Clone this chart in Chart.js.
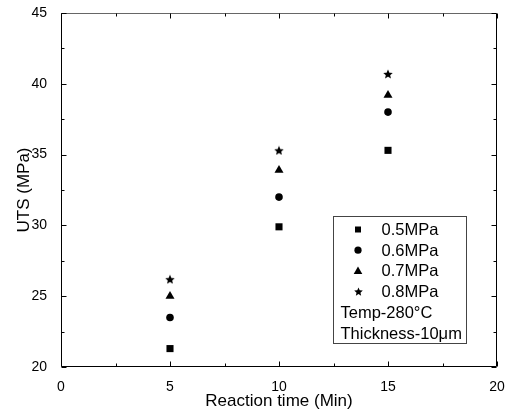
<!DOCTYPE html>
<html>
<head>
<meta charset="utf-8">
<script src="https://cdn.jsdelivr.net/npm/chart.js@4.4.1/dist/chart.umd.min.js"></script>
<style>
  html, body { margin: 0; padding: 0; background: #fff; }
  #wrap { width: 505px; height: 413px; }
</style>
</head>
<body>
<div id="wrap"><canvas id="graficoUts"></canvas></div>
<script>
// dados
const tempos = [5, 10, 15]
const uts05 = [21.3, 29.9, 35.3]
const uts06 = [23.5, 32.0, 38.0]
const uts07 = [25.0, 33.9, 39.2]
const uts08 = [26.2, 35.3, 40.7]
const legendas = ['0.5MPa', '0.6MPa', '0.7MPa', '0.8MPa']
const notas = ['Temp-280°C', 'Thickness-10μm']
const ticksX = [0, 5, 10, 15, 20]
const ticksY = [20, 25, 30, 35, 40, 45]

const fonte = '"Liberation Sans", Arial, sans-serif'

function criaEstrela(tam) {
    const c = document.createElement('canvas')
    c.width = tam
    c.height = tam
    const ctx = c.getContext('2d')
    const r = tam / 2, ri = r * 0.46
    ctx.beginPath()
    for (let i = 0; i < 10; i++) {
        const ang = -Math.PI / 2 + i * Math.PI / 5
        const rr = i % 2 === 0 ? r : ri
        ctx.lineTo(r + rr * Math.cos(ang), r + 0.5 + rr * Math.sin(ang))
    }
    ctx.closePath()
    ctx.fillStyle = '#000'
    ctx.fill()
    return c
}

const estrela = criaEstrela(10)
const estrelaPequena = criaEstrela(9)

function pontos(valores) {
    return tempos.map((t, i) => ({ x: t, y: valores[i] }))
}

function serie(label, valores, estilo, raio) {
    return {
        label: label,
        data: pontos(valores),
        pointStyle: estilo,
        pointRadius: raio,
        pointHoverRadius: raio,
        backgroundColor: '#000',
        borderColor: '#000',
        borderWidth: 0,
        showLine: false
    }
}

// moldura e ticks para dentro, nos quatro lados
const molduraTicks = {
    id: 'molduraTicks',
    afterDatasetsDraw(chart) {
        const ctx = chart.ctx
        const { left, right, top, bottom } = chart.chartArea
        const x = chart.scales.x, y = chart.scales.y
        const L = Math.round(left) + 0.5, R = Math.round(right) - 0.5
        const T = Math.round(top) + 0.5, B = Math.round(bottom) - 0.5
        ctx.save()
        ctx.lineWidth = 1
        ctx.strokeStyle = '#666'
        ctx.beginPath(); ctx.moveTo(L, T); ctx.lineTo(R, T); ctx.stroke()
        ctx.strokeStyle = '#000'
        ctx.beginPath()
        ctx.moveTo(R, T); ctx.lineTo(R, B); ctx.lineTo(L, B); ctx.lineTo(L, T)
        ctx.stroke()
        ctx.beginPath()
        for (let v = x.min; v <= x.max; v += 2.5) {
            const px = Math.round(x.getPixelForValue(v)) + 0.5
            const len = v % 5 === 0 ? 5 : 3
            ctx.moveTo(px, B); ctx.lineTo(px, B - len)
            ctx.moveTo(px, T); ctx.lineTo(px, T + len)
        }
        for (let v = y.min; v <= y.max; v += 2.5) {
            const py = Math.round(y.getPixelForValue(v)) + 0.5
            const len = v % 5 === 0 ? 5 : 3
            ctx.moveTo(L, py); ctx.lineTo(L + len, py)
            ctx.moveTo(R, py); ctx.lineTo(R - len, py)
        }
        ctx.stroke()
        ctx.restore()
    }
}

function desenhaMarcador(ctx, estilo, cx, cy) {
    ctx.fillStyle = '#000'
    ctx.beginPath()
    if (estilo === 'rect') {
        ctx.rect(cx - 3, cy - 3, 6, 6)
        ctx.fill()
    } else if (estilo === 'circle') {
        ctx.arc(cx, cy, 3.6, 0, Math.PI * 2)
        ctx.fill()
    } else if (estilo === 'triangle') {
        ctx.moveTo(cx, cy - 4.5)
        ctx.lineTo(cx + 4.3, cy + 3)
        ctx.lineTo(cx - 4.3, cy + 3)
        ctx.closePath()
        ctx.fill()
    } else {
        ctx.drawImage(estrelaPequena, Math.round(cx - 4.5), Math.round(cy - 4.5))
    }
}

// legenda com caixa dentro da area do grafico
const legendaCaixa = {
    id: 'legendaCaixa',
    afterDraw(chart) {
        const ctx = chart.ctx
        const area = chart.chartArea
        const w = 133, h = 127
        const bx = Math.round(area.right - 31 - w) + 0.5
        const by = Math.round(area.bottom - 24 - h) + 0.5
        ctx.save()
        ctx.fillStyle = '#fff'
        ctx.fillRect(bx, by, w, h)
        ctx.strokeStyle = '#444'
        ctx.lineWidth = 1
        ctx.strokeRect(bx, by, w, h)
        ctx.font = '16.5px ' + fonte
        ctx.textBaseline = 'middle'
        ctx.textAlign = 'left'
        const estilos = chart.data.datasets.map(d => d.pointStyle === estrela ? 'star' : d.pointStyle)
        let linha = by + 13
        chart.data.datasets.forEach((d, i) => {
            desenhaMarcador(ctx, estilos[i], bx + 24.5, linha)
            ctx.fillStyle = '#000'
            ctx.fillText(d.label, bx + 48, linha + 1)
            linha += 20.7
        })
        notas.forEach(n => {
            ctx.fillStyle = '#000'
            ctx.fillText(n, bx + 7, linha + 1)
            linha += 20.7
        })
        ctx.restore()
    }
}

const graficoUts = new Chart(document.getElementById('graficoUts'), {
    type: 'scatter',
    data: {
        datasets: [
            serie(legendas[0], uts05, 'rect', 5),
            serie(legendas[1], uts06, 'circle', 3.8),
            serie(legendas[2], uts07, 'triangle', 5.2),
            serie(legendas[3], uts08, estrela, 5)
        ]
    },
    options: {
        responsive: true,
        maintainAspectRatio: false,
        animation: false,
        layout: { padding: { top: 13, right: 8, left: 0, bottom: 0 } },
        plugins: {
            legend: { display: false },
            tooltip: { enabled: false }
        },
        scales: {
            x: {
                type: 'linear',
                min: 0,
                max: 20,
                grid: { display: false },
                border: { display: false },
                afterBuildTicks: s => { s.ticks = ticksX.map(v => ({ value: v })) },
                afterFit: s => { s.height = 46; s.paddingLeft = 0; s.paddingRight = 0 },
                ticks: {
                    color: '#000',
                    padding: 4,
                    maxRotation: 0,
                    font: { family: fonte, size: 14 }
                },
                title: {
                    display: true,
                    text: 'Reaction time (Min)',
                    color: '#000',
                    font: { family: fonte, size: 17 },
                    padding: { top: 0, bottom: 1 }
                }
            },
            y: {
                type: 'linear',
                min: 20,
                max: 45,
                grid: { display: false },
                border: { display: false },
                afterBuildTicks: s => { s.ticks = ticksY.map(v => ({ value: v })) },
                afterFit: s => { s.width = 61; s.paddingTop = 0; s.paddingBottom = 0 },
                ticks: {
                    color: '#000',
                    padding: 6,
                    font: { family: fonte, size: 14 }
                },
                title: {
                    display: true,
                    text: 'UTS (MPa)',
                    color: '#000',
                    font: { family: fonte, size: 17 },
                    padding: { top: 14, bottom: 0 }
                }
            }
        }
    },
    plugins: [molduraTicks, legendaCaixa]
});
</script>
</body>
</html>
